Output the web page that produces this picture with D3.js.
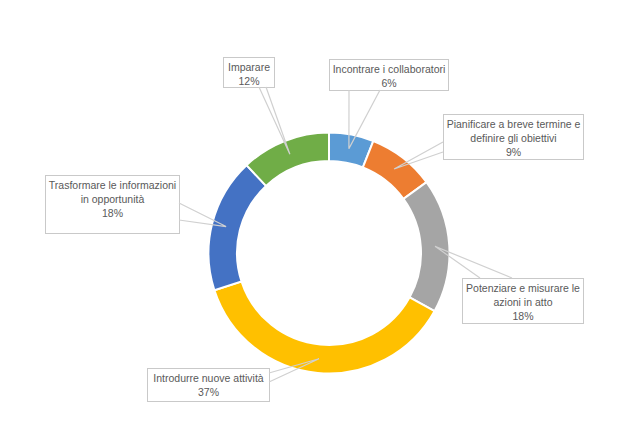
<!DOCTYPE html>
<html>
<head>
<meta charset="utf-8">
<script src="https://cdn.jsdelivr.net/npm/d3@7"></script>
<style>
  body { margin: 0; background: #fff; }
  svg text { font-family: "Liberation Sans Narrow", "Liberation Sans", sans-serif; font-size: 10.5px; fill: #595959; }
</style>
</head>
<body>
<svg id="chart-area"></svg>
<script>
// data
const categories = ["Incontrare i collaboratori", "Pianificare a breve termine e definire gli obiettivi",
    "Potenziare e misurare le azioni in atto", "Introdurre nuove attività",
    "Trasformare le informazioni in opportunità", "Imparare"]
const values = [6, 9, 18, 37, 18, 12]
const labelLines = [
    ["Incontrare i collaboratori"],
    ["Pianificare a breve termine e", "definire gli obiettivi"],
    ["Potenziare e misurare le", "azioni in atto"],
    ["Introdurre nuove attività"],
    ["Trasformare le informazioni", "in opportunità"],
    ["Imparare"]
]
const colors = ["#5B9BD5", "#ED7D31", "#A5A5A5", "#FFC000", "#4472C4", "#70AD47"]

// callout boxes: x, y, w, h and the two points where the wedge leaves the box
const boxes = [
    { x: 329, y: 59, w: 119, h: 31, base: [[349, 90], [380, 90]] },
    { x: 443, y: 114, w: 140, h: 45, base: [[443, 142], [443, 152]] },
    { x: 462, y: 278, w: 121, h: 45, base: [[480, 278], [512, 278]] },
    { x: 147, y: 368, w: 122, h: 33, base: [[269, 373], [269, 382]] },
    { x: 45, y: 175, w: 134, h: 58, base: [[179, 203], [179, 220]] },
    { x: 223, y: 57, w: 51, h: 30, base: [[259, 87], [266, 87]] }
]

const width = 640
const height = 439
const cx = 329
const cy = 253
const outerR = 120.5
const innerR = 92

const svg = d3.select("#chart-area")
    .attr("width", width)
    .attr("height", height)

const pie = d3.pie().sort(null).value(d => d)
const arc = d3.arc().innerRadius(innerR).outerRadius(outerR)

const arcs = pie(values)

const g = svg.append("g").attr("transform", `translate(${cx},${cy})`)

g.selectAll(".slice")
    .data(arcs)
    .enter().append("path")
    .attr("class", "slice")
    .attr("d", arc)
    .attr("fill", (d, i) => colors[i])
    .attr("stroke", "#fff")
    .attr("stroke-width", 2)

// callouts
const callout = svg.selectAll(".callout")
    .data(arcs)
    .enter().append("g")
    .attr("class", "callout")

callout.append("rect")
    .attr("x", (d, i) => boxes[i].x + 0.5)
    .attr("y", (d, i) => boxes[i].y + 0.5)
    .attr("width", (d, i) => boxes[i].w)
    .attr("height", (d, i) => boxes[i].h)
    .attr("fill", "#fff")
    .attr("stroke", "#C9C9C9")
    .attr("stroke-width", 1)

callout.append("path")
    .attr("d", (d, i) => {
        const c = arc.centroid(d)
        const tx = cx + c[0], ty = cy + c[1]
        const b = boxes[i].base
        return `M${b[0][0]},${b[0][1]}L${tx},${ty}L${b[1][0]},${b[1][1]}`
    })
    .attr("fill", "none")
    .attr("stroke", "#D0D0D0")
    .attr("stroke-width", 1.2)

callout.each(function(d, i) {
    const b = boxes[i]
    const lines = labelLines[i].concat([values[i] + "%"])
    const t = d3.select(this).append("text")
        .attr("text-anchor", "middle")
    lines.forEach((l, k) => {
        t.append("tspan")
            .attr("x", b.x + b.w / 2 + 0.5)
            .attr("y", b.y + 13.5 + k * 14)
            .text(l)
    })
})
</script>
</body>
</html>
